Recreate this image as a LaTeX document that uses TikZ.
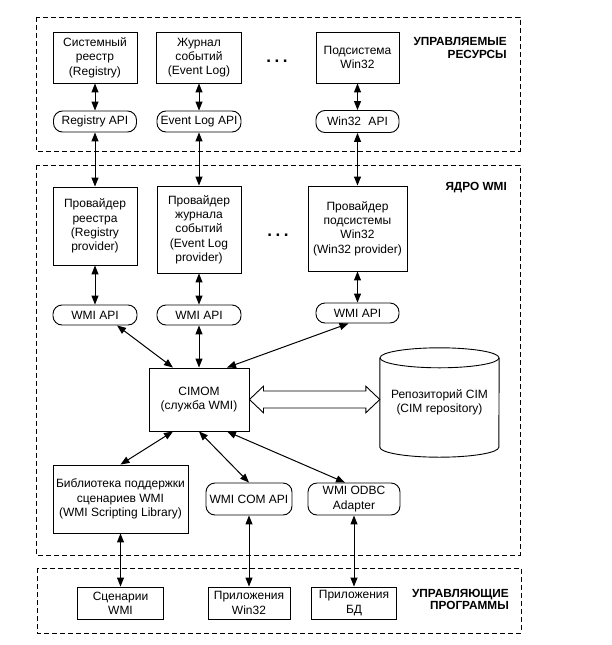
\documentclass[tikz,border=0pt]{standalone}
\usepackage{fontspec}
\setmainfont{Liberation Sans}
\usetikzlibrary{arrows.meta,calc}
\begin{document}
\begin{tikzpicture}[x=1pt,y=-1pt,
  box/.style={draw, line width=0.9pt, align=center, inner sep=1pt, font=\fontsize{12}{14.3}\selectfont},
  rbox/.style={box, rounded corners=9pt},
  frame/.style={draw, line width=0.9pt, dash pattern=on 5pt off 3pt},
  lbl/.style={font=\fontsize{11.8}{12.8}\selectfont\bfseries, align=right, anchor=east, inner sep=0pt},
  link/.style={line width=1pt, {Triangle[length=9pt,width=7pt]}-{Triangle[length=9pt,width=7pt]}},
  dots/.style={font=\fontsize{17}{17}\selectfont\bfseries, inner sep=0pt},
]
\useasboundingbox (0,0) rectangle (612,645);
% frames
\draw[frame] (36,17) rectangle (520,151);
\draw[frame] (36,165) rectangle (520,555);
\draw[frame] (37,568) rectangle (521,633);
\node[lbl] (l1) at (507,48) {УПРАВЛЯЕМЫЕ\\РЕСУРСЫ};
\node[lbl] (l2) at (507,188) {ЯДРО WMI};
\node[lbl] (l3) at (509,599.5) {УПРАВЛЯЮЩИЕ\\ПРОГРАММЫ};
% top row
\node[box, minimum width=84, minimum height=51] (sr) at (95,57.5) {Системный\\реестр\\(Registry)};
\node[box, minimum width=85, minimum height=51] (jl) at (199,57.5) {Журнал\\событий\\(Event Log)};
\node[box, minimum width=83, minimum height=51] (pw) at (357.5,57.5) {Подсистема\\Win32};
\node[dots] (d1) at (277,61) {.\hspace{3.5pt}.\hspace{3.5pt}.};
\node[rbox, minimum width=83, minimum height=21] (rapi) at (95,121.5) {Registry API};
\node[rbox, minimum width=84, minimum height=21] (eapi) at (199,121.5) {Event Log API};
\node[rbox, minimum width=83, minimum height=22] (wapi) at (357.5,121.5) {Win32\hspace{4pt} API};
% providers
\node[box, minimum width=84, minimum height=78] (p1) at (95,226) {Провайдер\\реестра\\(Registry\\provider)};
\node[box, minimum width=84, minimum height=87] (p2) at (199,229.5) {Провайдер\\журнала\\событий\\(Event Log\\provider)};
\node[box, minimum width=99, minimum height=85] (p3) at (357.5,228.5) {Провайдер\\подсистемы\\Win32\\(Win32 provider)};
\node[dots] (d2) at (278,235) {.\hspace{3.5pt}.\hspace{3.5pt}.};
\node[rbox, minimum width=84, minimum height=20] (w1) at (95,315) {WMI API};
\node[rbox, minimum width=84, minimum height=20] (w2) at (199,315) {WMI API};
\node[rbox, minimum width=83, minimum height=20] (w3) at (357.5,313) {WMI API};
% core
\node[box, minimum width=100, minimum height=63] (c) at (199,399.5) {CIMOM\\(служба WMI)};
\node[align=center, inner sep=0pt, minimum width=119, minimum height=109, font=\fontsize{12}{14.3}\selectfont] (repo) at (439.5,402.5) {Репозиторий CIM\\(CIM repository)};
\draw[line width=0.9pt] (repo.north) ++(0,10) ellipse[x radius=59.5, y radius=10];
\draw[line width=0.9pt] ($(repo.north west)+(0,10)$) -- ($(repo.south west)+(0,-10)$)
  arc[start angle=180, end angle=0, x radius=59.5, y radius=10] -- ($(repo.north east)+(0,10)$);
% hollow double arrow
\coordinate (ha) at (c.east);
\coordinate (hb) at (c.east -| repo.west);
\draw[line width=0.9pt, fill=white] (ha) -- ++(14,-13.3) -- ++(0,4.8) -- ($(hb)+(-14,-8.5)$) -- ++(0,-4.8)
  -- (hb) -- ++(-14,13.3) -- ++(0,-4.8) -- ($(ha)+(14,8.5)$) -- ++(0,4.8) -- cycle;
% bottom of core
\node[box, minimum width=135, minimum height=68] (lib) at (120.5,499) {Библиотека поддержки\\сценариев WMI\\(WMI Scripting Library)};
\node[rbox, minimum width=86, minimum height=32] (com) at (249,499) {WMI COM API};
\node[rbox, minimum width=92, minimum height=32] (odbc) at (354,499) {WMI ODBC\\Adapter};
% applications
\node[box, minimum width=86, minimum height=32] (sc) at (120.5,603) {Сценарии\\WMI};
\node[box, minimum width=82, minimum height=32] (aw) at (249,603) {Приложения\\Win32};
\node[box, minimum width=85, minimum height=32] (adb) at (354,603) {Приложения\\БД};
% connectors
\draw[link] (sr) -- (rapi);
\draw[link] (jl) -- (eapi);
\draw[link] (pw) -- (wapi);
\draw[link] (rapi) -- (p1);
\draw[link] (eapi) -- (p2);
\draw[link] (wapi) -- (p3);
\draw[link] (p1) -- (w1);
\draw[link] (p2) -- (w2);
\draw[link] (p3) -- (w3);
\draw[link] ([xshift=22pt]w1.south) -- ([xshift=-26pt]c.north);
\draw[link] (w2) -- (c);
\draw[link] ([xshift=-9pt]w3.south) -- ([xshift=28pt]c.north);
\draw[link] ([xshift=-26pt]c.south) -- (lib.north);
\draw[link] (c.south) -- (com.north);
\draw[link] ([xshift=28pt]c.south) -- ([xshift=-9pt]odbc.north);
\draw[link] (lib) -- (sc);
\draw[link] (com) -- (aw);
\draw[link] (odbc) -- (adb);
\end{tikzpicture}
\end{document}
